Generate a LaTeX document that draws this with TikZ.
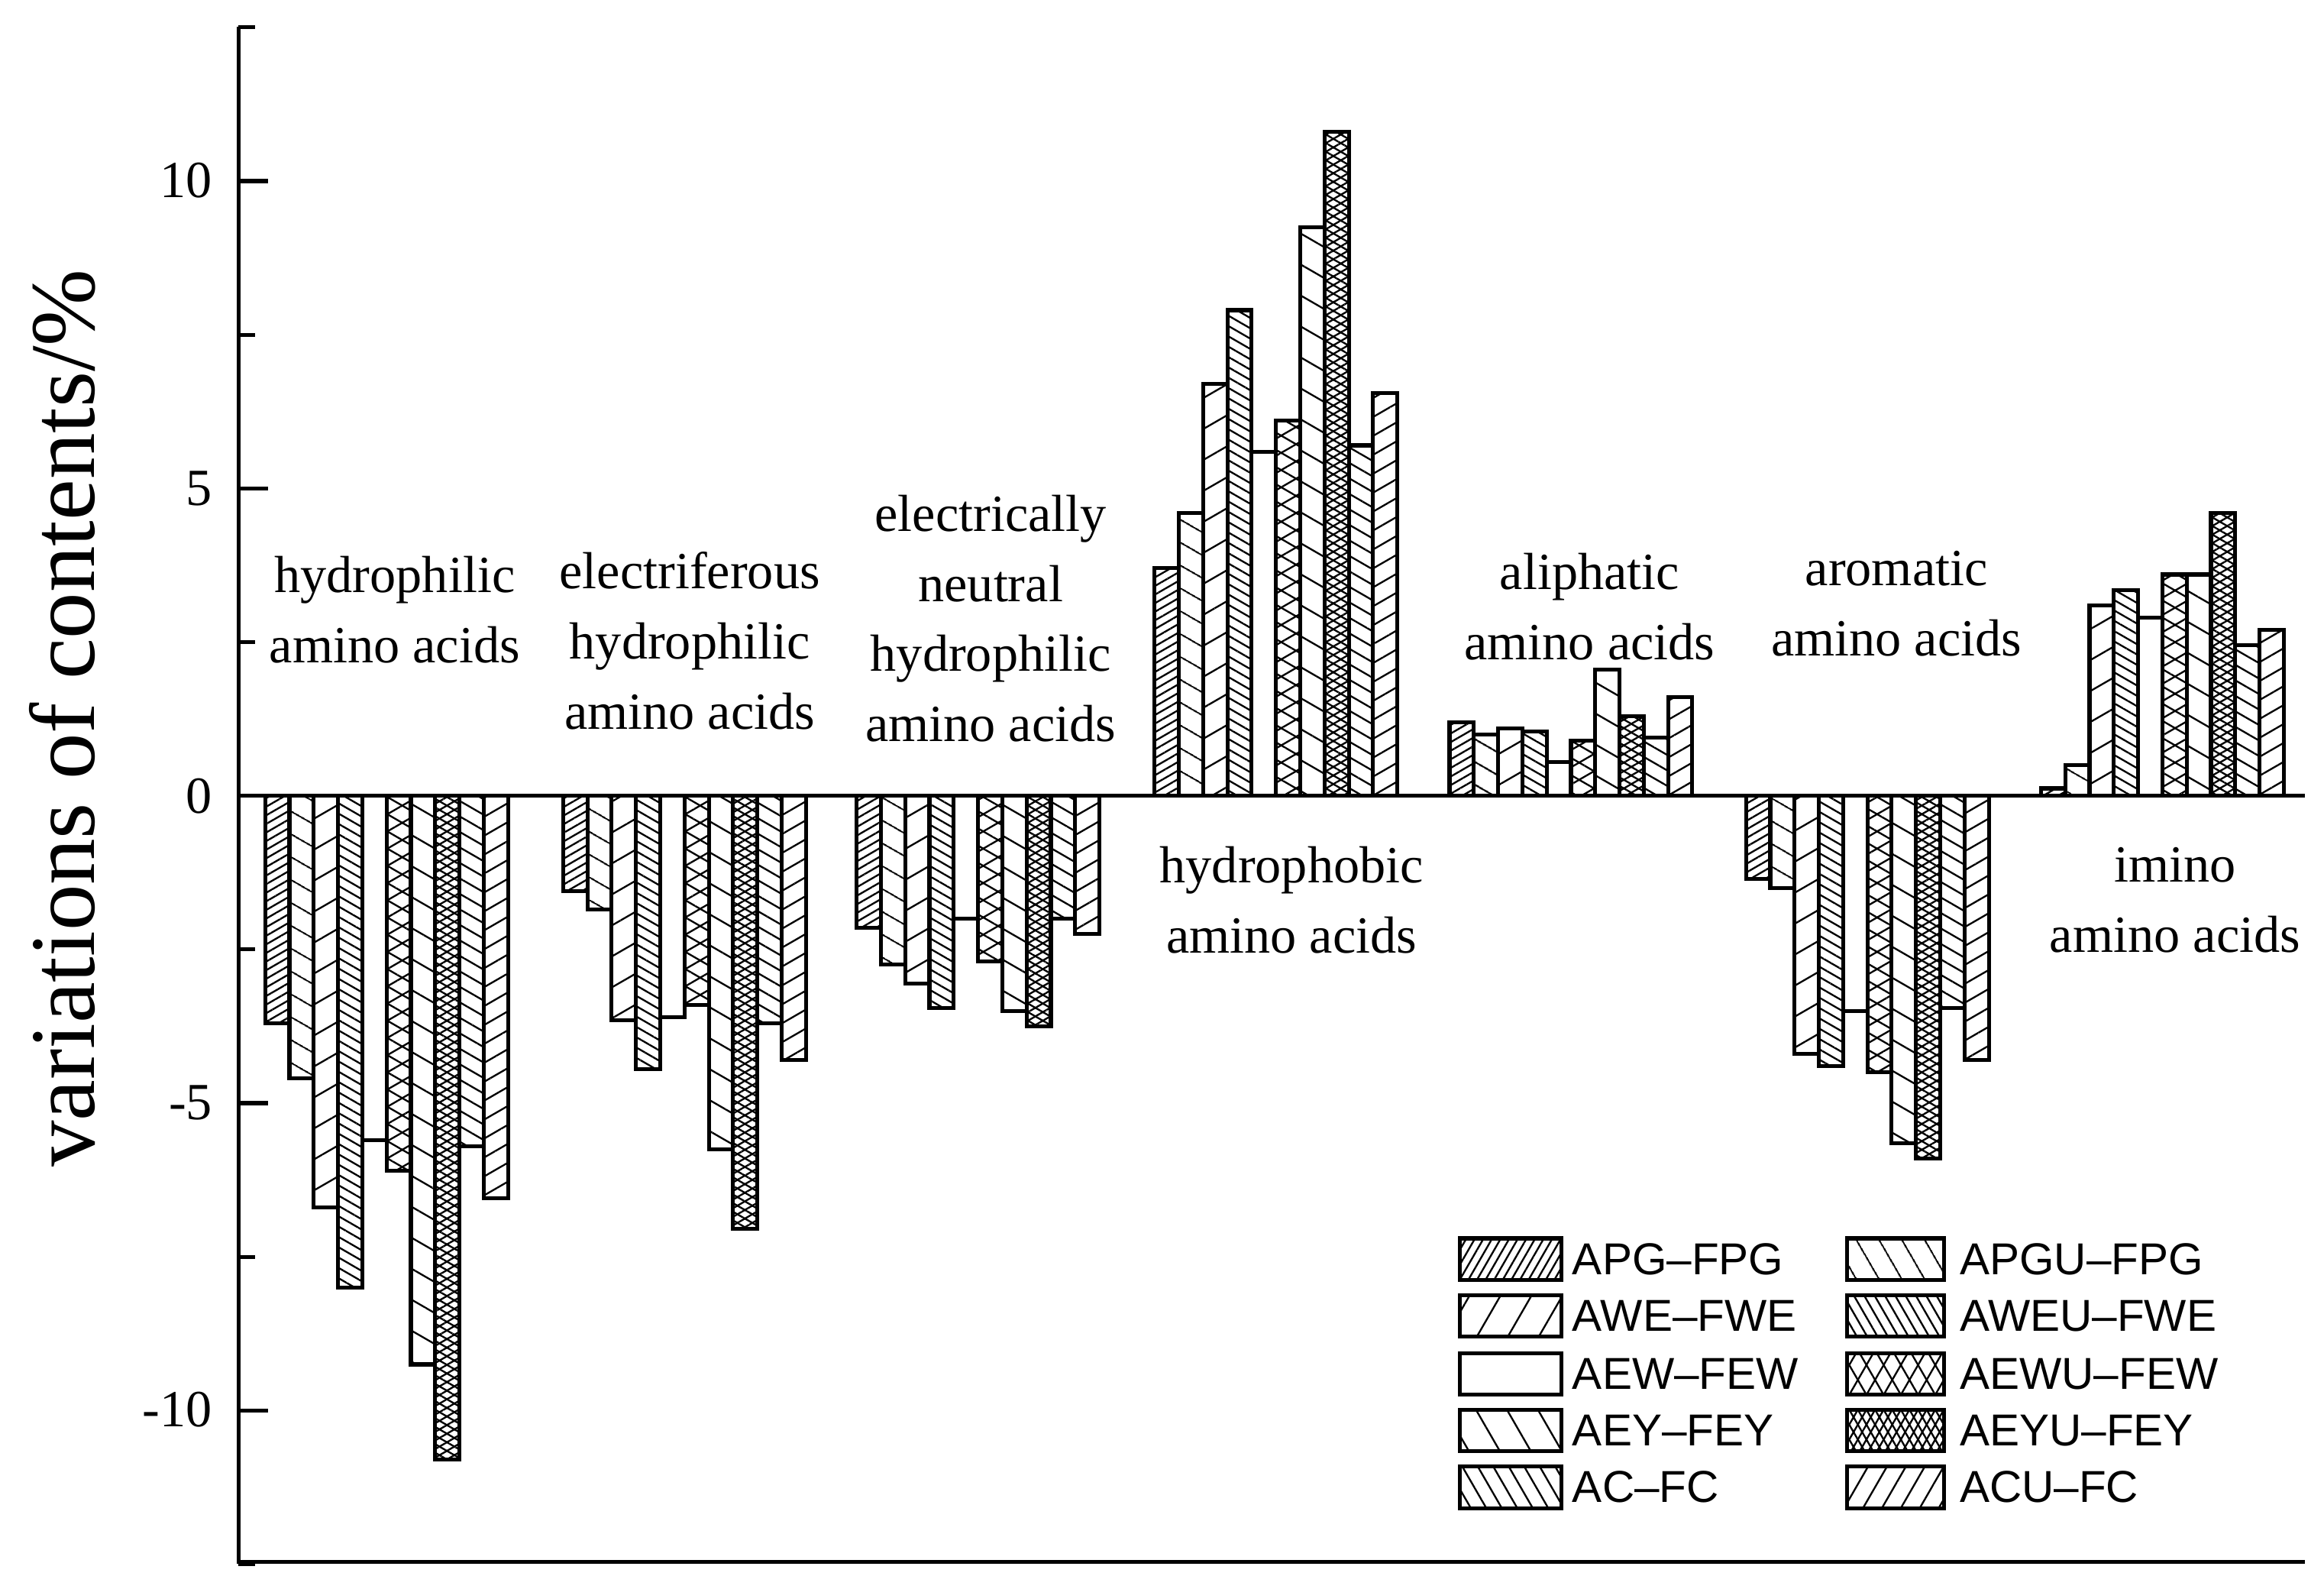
\documentclass[tikz,border=0pt]{standalone}
\usepackage{fontspec}
\setmainfont{Liberation Serif}
\newfontfamily\legfont{Liberation Sans}
\usetikzlibrary{patterns.meta}
\tikzset{
  bar/.style={draw=black,line width=2.6pt,fill=white},
  pat1/.style={pattern={Lines[angle=#1,distance=5pt,line width=1.2pt]}},pat1/.default=30,
  pat2/.style={pattern={Lines[angle=-#1,distance=13pt,line width=1.2pt]}},pat2/.default=30,
  pat3/.style={pattern={Lines[angle=#1,distance=18pt,line width=1.2pt]}},pat3/.default=30,
  pat4/.style={pattern={Lines[angle=-#1,distance=6pt,line width=1.2pt]}},pat4/.default=30,
  pat5/.style={},
  pat6/.style={pattern={Lines[angle=#1,distance=10pt,line width=1.2pt]},postaction={pattern={Lines[angle=-#1,distance=10pt,line width=1.2pt]}}},pat6/.default=30,
  pat7/.style={pattern={Lines[angle=-#1,distance=18pt,line width=1.2pt]}},pat7/.default=30,
  pat8/.style={pattern={Lines[angle=#1,distance=5pt,line width=1.2pt]},postaction={pattern={Lines[angle=-#1,distance=5pt,line width=1.2pt]}}},pat8/.default=30,
  pat9/.style={pattern={Lines[angle=-#1,distance=9pt,line width=1.2pt]}},pat9/.default=30,
  pat10/.style={pattern={Lines[angle=#1,distance=11pt,line width=1.2pt]}},pat10/.default=30,
  grp/.style={font=\fontsize{35}{47}\selectfont,align=center},
  tick/.style={font=\fontsize{35}{40}\selectfont,anchor=east},
  leg/.style={font=\legfont\fontsize{30}{32}\selectfont,anchor=west},
  lbox/.style={draw=black,line width=2.6pt,fill=white}
}
\begin{document}
\begin{tikzpicture}[x=1pt,y=-1pt]
\useasboundingbox (0,0) rectangle (1560,1066);
% bars
\foreach \gx/\vals in {
 178/{-3.7,-4.6,-6.7,-8.0,-5.6,-6.1,-9.25,-10.8,-5.7,-6.55},
 378/{-1.55,-1.85,-3.65,-4.45,-3.6,-3.4,-5.75,-7.05,-3.7,-4.3},
 575/{-2.15,-2.75,-3.05,-3.45,-2.0,-2.7,-3.5,-3.75,-2.0,-2.25},
 775/{3.7,4.6,6.7,7.9,5.6,6.1,9.25,10.8,5.7,6.55},
 973/{1.2,1.0,1.1,1.05,0.55,0.9,2.05,1.3,0.95,1.6},
 1172/{-1.35,-1.5,-4.2,-4.4,-3.5,-4.5,-5.65,-5.9,-3.45,-4.3},
 1370/{0.12,0.5,3.1,3.35,2.9,3.6,3.6,4.6,2.45,2.7}}{
  \foreach \v [count=\i] in \vals {
    \pgfmathsetmacro\xa{\gx+(\i-1)*16.3}
    \pgfmathsetmacro\yy{-1*(\v)*41.25}
    \edef\mycmd{\noexpand\draw[bar,pat\i] (\xa,534) rectangle ++(16.3,\yy);}
    \mycmd
  }
}
% axes
\draw[line width=2.6pt] (160,18) -- (160,1048) -- (1547,1048);
\draw[line width=2.6pt] (160,534) -- (1547,534);
\foreach \t in {-12.5,-7.5,-2.5,2.5,7.5,12.5}
  \draw[line width=2.6pt] (160,{534-\t*41.25}) -- ++(11,0);
\foreach \t in {-10,-5,0,5,10}
  \draw[line width=2.6pt] (160,{534-\t*41.25}) -- ++(20,0);
\node[tick] (t10) at (146,121) {10};
\node[tick] (t5) at (146,328) {5};
\node[tick] (t0) at (146,534) {0};
\node[tick] (tm5) at (146,740) {-5};
\node[tick] (tm10) at (146,946) {-10};
\node[rotate=90,font=\fontsize{62}{66}\selectfont] (ylab) at (42,482) {variations of contents/\%};
% group labels
\node[grp] (g1) at (265,409) {hydrophilic\\amino acids};
\node[grp] (g2) at (463,430) {electriferous\\hydrophilic\\amino acids};
\node[grp] (g3) at (665,415) {electrically\\neutral\\hydrophilic\\amino acids};
\node[grp] (g4) at (867,604) {hydrophobic\\amino acids};
\node[grp] (g5) at (1067,407) {aliphatic\\amino acids};
\node[grp] (g6) at (1273,405) {aromatic\\amino acids};
\node[grp] (g7) at (1460,604) {imino\\amino acids};
% legend
\foreach \y/\ia/\la/\ib/\lb [count=\k] in {845/1/APG–FPG/2/APGU–FPG, 883/3/AWE–FWE/4/AWEU–FWE, 922/5/AEW–FEW/6/AEWU–FEW, 960/7/AEY–FEY/8/AEYU–FEY, 998/9/AC–FC/10/ACU–FC}{
  \edef\mycmd{\noexpand\draw[lbox,pat\ia=60] (980,\y-14) rectangle (1048,\y+14);
    \noexpand\draw[lbox,pat\ib=60] (1240,\y-14) rectangle (1305,\y+14);}
  \mycmd
  \node[leg] (la\k) at (1052,\y) {\la};
  \node[leg] (lb\k) at (1312,\y) {\lb};
}
\end{tikzpicture}
\end{document}
